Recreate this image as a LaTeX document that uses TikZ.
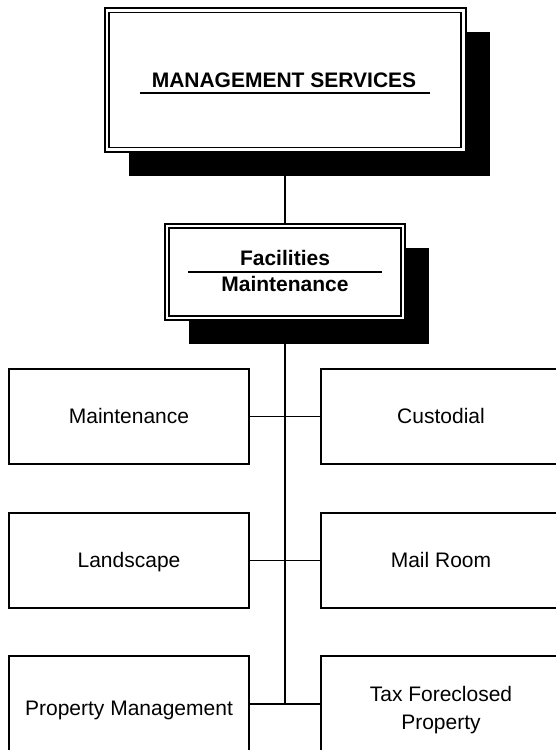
\documentclass[tikz,border=0pt]{standalone}
\usepackage{fontspec}
\setmainfont{Liberation Sans}
\usetikzlibrary{shadows,calc}
\begin{document}
\begin{tikzpicture}[x=1pt,y=-1pt,
  every node/.style={inner sep=0pt, font=\fontsize{21}{28}\selectfont},
  unitbox/.style={draw, line width=1.3pt, fill=white, minimum width=240pt, minimum height=95pt, align=center},
  oneline/.style={text height=15.5pt, text depth=1.5pt},
  headbox/.style={draw, line width=2pt, fill=white, drop shadow={shadow xshift=24pt, shadow yshift=-24pt, opacity=1, fill=black}},
  innerframe/.style={line width=1.3pt},
  titletext/.style={font=\fontsize{21}{27}\selectfont\bfseries, anchor=base},
  conn/.style={line width=1.3pt},
  titlerule/.style={line width=1.3pt}]
\useasboundingbox (0,0) rectangle (556,750);
\clip (0,0) rectangle (556,750);

% head boxes
\node[headbox, minimum width=361pt, minimum height=144pt] (ms) at (285,80) {};
\draw[innerframe] ($(ms.north west)+(5.5,5.5)$) rectangle ($(ms.south east)+(-5.5,-5.5)$);
\node[titletext] (mstext) at (284,87) {MANAGEMENT SERVICES};
\draw[titlerule] (140,93) -- (430,93);

\node[headbox, minimum width=240pt, minimum height=96pt] (fm) at (285,272) {};
\draw[innerframe] ($(fm.north west)+(5,5)$) rectangle ($(fm.south east)+(-5,-5)$);
\node[titletext] (fac) at (285,265) {Facilities};
\node[titletext] (facm) at (285,291.7) {Maintenance};
\draw[titlerule] (188,272) -- (382,272);

% unit boxes
\node[unitbox, oneline] (maint) at (129,416.5) {Maintenance};
\node[unitbox, oneline] (cust) at (441,416.5) {Custodial};
\node[unitbox, oneline] (land) at (129,560.5) {Landscape};
\node[unitbox, oneline] (mail) at (441,560.5) {Mail Room};
\node[unitbox, oneline, minimum height=104pt] (prop) at (129,708) {Property Management};
\node[unitbox, minimum height=108pt] (tax) at (441,710) {Tax Foreclosed\\Property};

% connectors
\coordinate (j3) at (285,704);
\draw[conn] (ms.south) -- (fm.north);
\draw[conn] (fm.south) -- (j3);
\draw[conn] (maint) -- (cust);
\draw[conn] (land) -- (mail);
\draw[conn] (j3 -| prop.east) -- (j3 -| tax.west);
\end{tikzpicture}
\end{document}
